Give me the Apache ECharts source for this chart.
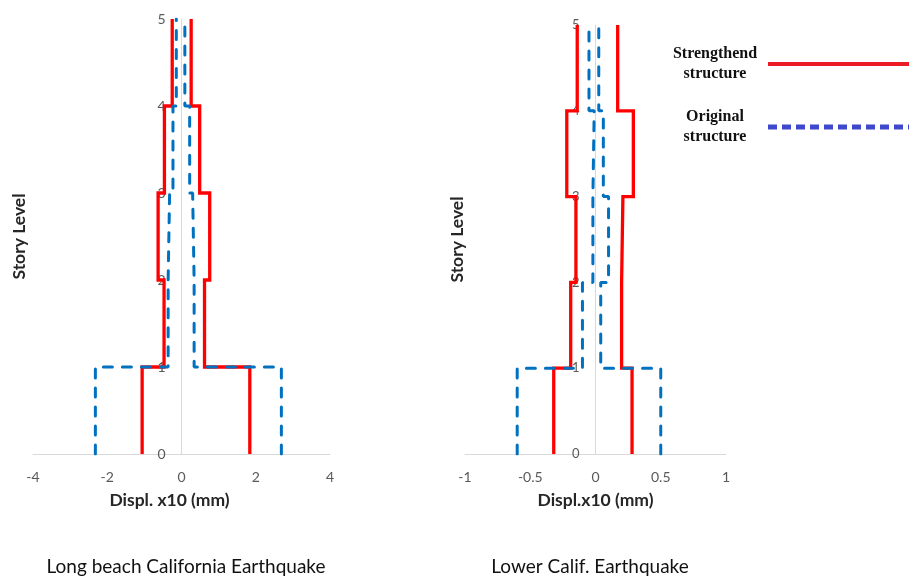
<!DOCTYPE html>
<html><head><meta charset="utf-8">
<script src="https://cdn.jsdelivr.net/npm/echarts@6/dist/echarts.min.js"></script>
<style>html,body{margin:0;padding:0;background:#fff}#c{width:909px;height:578px}</style>
</head><body><div id="c"></div>
<script>
// Story boundaries (levels) and y tick values
const storyLevels = [0, 1, 2, 3, 4, 5];
// Per-story extreme displacements (x10 mm), stories 0-1, 1-2, 2-3, 3-4, 4-5
// Long beach California Earthquake
const lbStrengthMin = [-1.06, -0.47, -0.63, -0.46, -0.25];
const lbStrengthMax = [1.84, 0.62, 0.76, 0.49, 0.26];
const lbOriginalMin = [-2.32, -0.36, -0.32, -0.23, -0.14];
const lbOriginalMax = [2.69, 0.34, 0.30, 0.22, 0.09];
// Lower Calif. Earthquake
const lcStrengthMin = [-0.32, -0.19, -0.15, -0.22, -0.14];
const lcStrengthMax = [0.28, 0.20, 0.21, 0.29, 0.17];
const lcOriginalMin = [-0.60, -0.10, -0.02, -0.01, -0.05];
const lcOriginalMax = [0.50, 0.04, 0.10, 0.06, 0.025];
// Axis ranges / tick steps
const lbXRange = [-4, 4, 2];
const lcXRange = [-1, 1, 0.5];
const yRange = [0, 5, 1];
const seriesNames = ['Strengthend structure', 'Original structure'];
const chartTitles = ['Long beach California Earthquake', 'Lower Calif. Earthquake'];
const xAxisNames = ['Displ. x10 (mm)', 'Displ.x10 (mm)'];
const yAxisName = 'Story Level';

function steps(vals) {
  const pts = [];
  vals.forEach((v, i) => { pts.push([v, storyLevels[i]]); pts.push([v, storyLevels[i + 1]]); });
  return pts;
}

const RED = '#ff0000', BLUE = '#0070c0';
const tickFont = { color: '#595959', fontFamily: 'Lato', fontSize: 14 };
const nameFont = { color: '#262626', fontFamily: 'Lato', fontSize: 17.5, fontWeight: 'bold' };

// grid geometry
const G = [
  { left: 33, width: 297, top: 19, height: 435 },
  { left: 465, width: 261, top: 25, height: 429 }
];
const ranges = [lbXRange, lcXRange];
function zeroOffset(i) {
  const r = ranges[i];
  return -G[i].width * (0 - r[0]) / (r[1] - r[0]);
}

function redSeries(data, idx) {
  return { name: seriesNames[0], type: 'line', xAxisIndex: idx, yAxisIndex: idx, data: steps(data),
    symbol: 'none', animation: false, z: 2,
    lineStyle: { color: RED, width: 3.3, join: 'miter' }, itemStyle: { color: RED } };
}
function blueSeries(data, idx) {
  return { name: seriesNames[1], type: 'line', xAxisIndex: idx, yAxisIndex: idx, data: steps(data),
    symbol: 'none', animation: false, z: 3,
    lineStyle: { color: BLUE, width: 3, type: [9, 10], cap: 'round' }, itemStyle: { color: BLUE } };
}
function xAxis(idx, r, nm, pad) {
  return { gridIndex: idx, type: 'value', min: r[0], max: r[1], interval: r[2],
    axisLine: { onZero: false, lineStyle: { color: '#d9d9d9', width: 1 } }, axisTick: { show: false },
    splitLine: { show: false }, axisLabel: Object.assign({ margin: 16 }, tickFont),
    name: nm, nameLocation: 'middle', nameGap: 37, nameTextStyle: Object.assign({ padding: pad }, nameFont) };
}
function yAxis(idx, gap, fs) {
  return { gridIndex: idx, type: 'value', min: yRange[0], max: yRange[1], interval: yRange[2],
    offset: zeroOffset(idx),
    axisLine: { onZero: false, lineStyle: { color: '#d9d9d9', width: 1 } }, axisTick: { show: false },
    splitLine: { show: false }, axisLabel: Object.assign({}, tickFont, { margin: 16, fontSize: fs }),
    name: yAxisName, nameLocation: 'middle', nameRotate: 90, nameGap: gap, nameTextStyle: nameFont };
}

const chart = echarts.init(document.getElementById('c'), null, { renderer: 'canvas' });
chart.setOption({
  animation: false,
  backgroundColor: '#ffffff',
  grid: G.map(g => ({ left: g.left, top: g.top, width: g.width, height: g.height, containLabel: false, outerBoundsMode: 'none' })),
  xAxis: [xAxis(0, lbXRange, xAxisNames[0], [0, 24, 0, 0]), xAxis(1, lcXRange, xAxisNames[1], [0, 0, 0, 0])],
  yAxis: [yAxis(0, 153, 14), yAxis(1, 129, 13)],
  legend: {
    orient: 'vertical', left: 662, top: 41, align: 'right', itemWidth: 150, itemHeight: 14, itemGap: 27,
    selectedMode: false,
    data: [
      { name: seriesNames[0], lineStyle: { color: '#ed1c24', width: 4, type: 'solid', cap: 'butt' }, itemStyle: { opacity: 0 } },
      { name: seriesNames[1], lineStyle: { color: '#3f48cc', width: 5, type: [9, 5], cap: 'butt' }, itemStyle: { opacity: 0 } }
    ],
    formatter: n => '{t|' + n.replace(' ', '\n') + '}',
    textStyle: { rich: { t: { fontFamily: 'Liberation Serif', fontWeight: 'bold', fontSize: 16, color: '#111', width: 96, align: 'center', lineHeight: 20 } } }
  },
  graphic: [
    { type: 'text', x: 186, y: 567, style: { text: chartTitles[0], align: 'center', verticalAlign: 'middle', fill: '#111', font: '19px Lato' } },
    { type: 'text', x: 590, y: 567, style: { text: chartTitles[1], align: 'center', verticalAlign: 'middle', fill: '#111', font: '19px Lato' } }
  ],
  series: [
    redSeries(lbStrengthMin, 0), redSeries(lbStrengthMax, 0),
    blueSeries(lbOriginalMin, 0), blueSeries(lbOriginalMax, 0),
    redSeries(lcStrengthMin, 1), redSeries(lcStrengthMax, 1),
    blueSeries(lcOriginalMin, 1), blueSeries(lcOriginalMax, 1)
  ]
});
</script></body></html>
